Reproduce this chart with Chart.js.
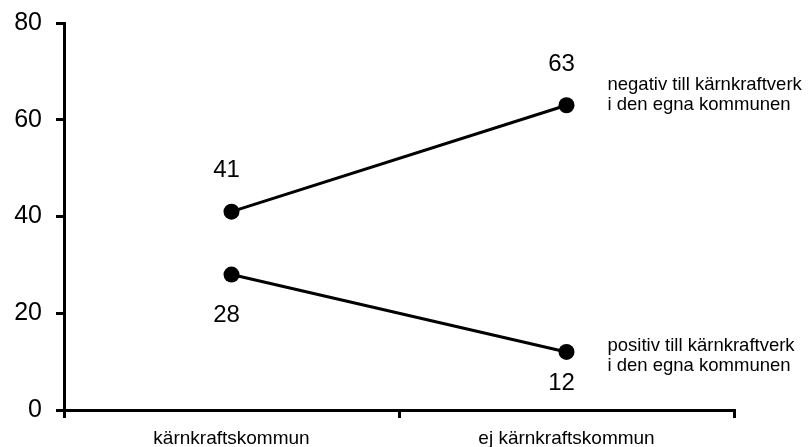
<!DOCTYPE html>
<html>
<head>
<meta charset="utf-8">
<script src="https://cdn.jsdelivr.net/npm/chart.js@4"></script>
<style>
  html, body { margin: 0; padding: 0; background: #fff; }
  #wrap { width: 811px; height: 447px; }
</style>
</head>
<body>
<div id="wrap"><canvas id="chart"></canvas></div>
<script>
const categories = ["kärnkraftskommun", "ej kärnkraftskommun"];
const negativValues = [41, 63];
const positivValues = [28, 12];
const seriesNames = [
  ["negativ till kärnkraftverk", "i den egna kommunen"],
  ["positiv till kärnkraftverk", "i den egna kommunen"],
];
const yTicks = [0, 20, 40, 60, 80];

const FONT = "'Liberation Sans', Arial, Helvetica, sans-serif";

// value labels next to each point, and the series name to the right of the last point
const labelPlugin = {
  id: "pointLabels",
  afterDatasetsDraw(chart) {
    const ctx = chart.ctx;
    ctx.save();
    ctx.fillStyle = "#000";
    chart.data.datasets.forEach((ds, i) => {
      const meta = chart.getDatasetMeta(i);
      const above = i === 0;
      meta.data.forEach((pt, j) => {
        ctx.font = "24px " + FONT;
        ctx.textAlign = "center";
        ctx.textBaseline = "middle";
        let dy = above ? -41 : (j === 0 ? 41 : 31);
        ctx.fillText(String(ds.data[j]), pt.x - 5, pt.y + dy);
      });
      const last = meta.data[meta.data.length - 1];
      ctx.font = "18.5px " + FONT;
      ctx.textAlign = "left";
      const lines = seriesNames[i];
      const startY = above ? last.y - 20 : last.y - 6;
      lines.forEach((t, k) => {
        ctx.fillText(t, last.x + 41, startY + k * 20);
      });
    });
    ctx.restore();
  },
};

new Chart(document.getElementById("chart"), {
  type: "line",
  data: {
    labels: categories,
    datasets: [
      {
        label: seriesNames[0].join(" "),
        data: negativValues,
      },
      {
        label: seriesNames[1].join(" "),
        data: positivValues,
      },
    ],
  },
  options: {
    responsive: true,
    maintainAspectRatio: false,
    animation: false,
    layout: { padding: { top: 23, right: 77, left: 0, bottom: 0 } },
    elements: {
      line: { borderColor: "#000", borderWidth: 3, tension: 0 },
      point: { radius: 8, backgroundColor: "#000", borderColor: "#000", borderWidth: 0 },
    },
    plugins: {
      legend: { display: false },
      tooltip: { enabled: false },
    },
    scales: {
      x: {
        offset: true,
        grid: {
          offset: true,
          drawOnChartArea: false,
          drawTicks: true,
          tickLength: 8,
          color: "#000",
          lineWidth: 3,
        },
        border: { color: "#000", width: 3 },
        ticks: {
          color: "#000",
          font: { family: FONT, size: 19 },
          padding: 9,
          maxRotation: 0,
        },
        afterFit(scale) {
          scale.height = 37;
          scale.paddingLeft = 0;
          scale.paddingRight = 0;
        },
      },
      y: {
        min: 0,
        max: 80,
        afterBuildTicks(scale) {
          scale.ticks = yTicks.map((v) => ({ value: v }));
        },
        grid: {
          drawOnChartArea: false,
          drawTicks: true,
          tickLength: 8,
          color: "#000",
          lineWidth: 3,
        },
        border: { color: "#000", width: 3 },
        ticks: {
          color: "#000",
          font: { family: FONT, size: 25 },
          padding: 14,
        },
        afterFit(scale) {
          scale.width = 64;
          scale.paddingTop = 0;
          scale.paddingBottom = 0;
        },
      },
    },
  },
  plugins: [labelPlugin],
});
</script>
</body>
</html>
